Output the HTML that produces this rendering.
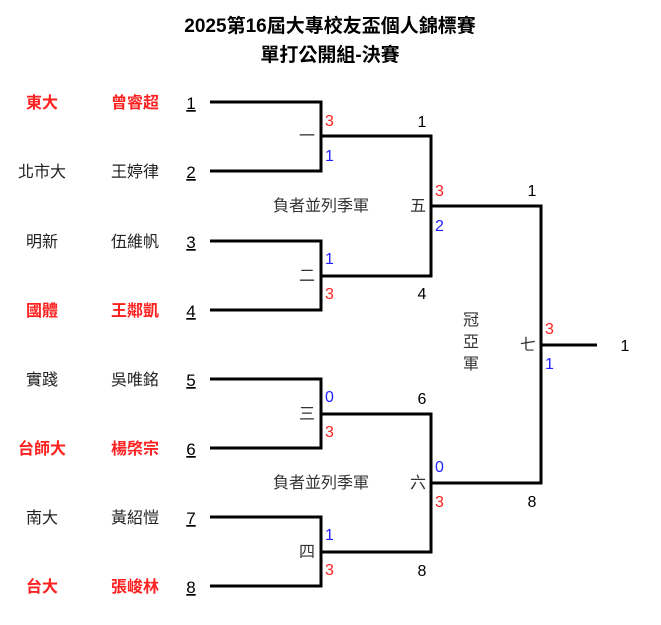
<!DOCTYPE html>
<html><head><meta charset="utf-8"><style>
html,body{margin:0;padding:0;background:#fff;}
svg{display:block;font-family:"Liberation Sans","Noto Sans CJK TC",sans-serif;}
</style></head><body>
<svg width="661" height="625" viewBox="0 0 661 625">
<g font-size="19" font-weight="bold" text-anchor="middle" fill="#000">
<text x="330" y="32">2025第16屆大專校友盃個人錦標賽</text>
<text x="330" y="61">單打公開組-決賽</text>
</g>
<g stroke="#000" stroke-width="3" fill="none">
<path d="M210 102H321V171H210"/><path d="M210 241H321V310H210"/>
<path d="M210 379H321V448H210"/><path d="M210 517H321V586H210"/>
<path d="M321 136H431V276H321"/><path d="M321 414H431V552H321"/>
<path d="M431 206H541V483H431"/><path d="M541 345H597"/>
</g>
<g font-size="16" text-anchor="middle">
<g font-weight="bold" fill="#ff2020">
<text x="42" y="108">東大</text><text x="135" y="108">曾睿超</text>
<text x="42" y="316">國體</text><text x="135" y="316">王鄰凱</text>
<text x="42" y="454">台師大</text><text x="135" y="454">楊棨宗</text>
<text x="42" y="592">台大</text><text x="135" y="592">張峻林</text>
</g>
<g fill="#222">
<text x="42" y="177">北市大</text><text x="135" y="177">王婷律</text>
<text x="42" y="247">明新</text><text x="135" y="247">伍維帆</text>
<text x="42" y="385">實踐</text><text x="135" y="385">吳唯銘</text>
<text x="42" y="523">南大</text><text x="135" y="523">黃紹愷</text>
</g>
</g>
<g font-size="17" text-anchor="middle" fill="#000" text-decoration="underline">
<text x="191" y="109">1</text><text x="191" y="178">2</text><text x="191" y="248">3</text><text x="191" y="317">4</text>
<text x="191" y="386">5</text><text x="191" y="455">6</text><text x="191" y="524">7</text><text x="191" y="593">8</text>
</g>
<g font-size="16" fill="#333" text-anchor="middle">
<text x="307" y="141">一</text><text x="307" y="281">二</text><text x="307" y="419">三</text><text x="307" y="557">四</text>
<text x="418" y="211">五</text><text x="418" y="488">六</text><text x="528" y="350">七</text>
<text x="321" y="211">負者並列季軍</text><text x="321" y="488">負者並列季軍</text>
<text x="471" y="325">冠</text><text x="471" y="347">亞</text><text x="471" y="369">軍</text>
</g>
<g font-size="16">
<text x="325" y="126" fill="#ff2020">3</text><text x="325" y="161" fill="#2020ff">1</text>
<text x="325" y="264" fill="#2020ff">1</text><text x="325" y="299" fill="#ff2020">3</text>
<text x="325" y="402" fill="#2020ff">0</text><text x="325" y="437" fill="#ff2020">3</text>
<text x="325" y="540" fill="#2020ff">1</text><text x="325" y="575" fill="#ff2020">3</text>
<text x="435" y="196" fill="#ff2020">3</text><text x="435" y="231" fill="#2020ff">2</text>
<text x="435" y="472" fill="#2020ff">0</text><text x="435" y="507" fill="#ff2020">3</text>
<text x="545" y="334" fill="#ff2020">3</text><text x="545" y="369" fill="#2020ff">1</text>
</g>
<g font-size="16" fill="#000" text-anchor="middle">
<text x="422" y="127">1</text><text x="422" y="299">4</text>
<text x="422" y="404">6</text><text x="422" y="576">8</text>
<text x="532" y="196">1</text><text x="532" y="507">8</text>
<text x="625" y="351">1</text>
</g>
</svg>
</body></html>
